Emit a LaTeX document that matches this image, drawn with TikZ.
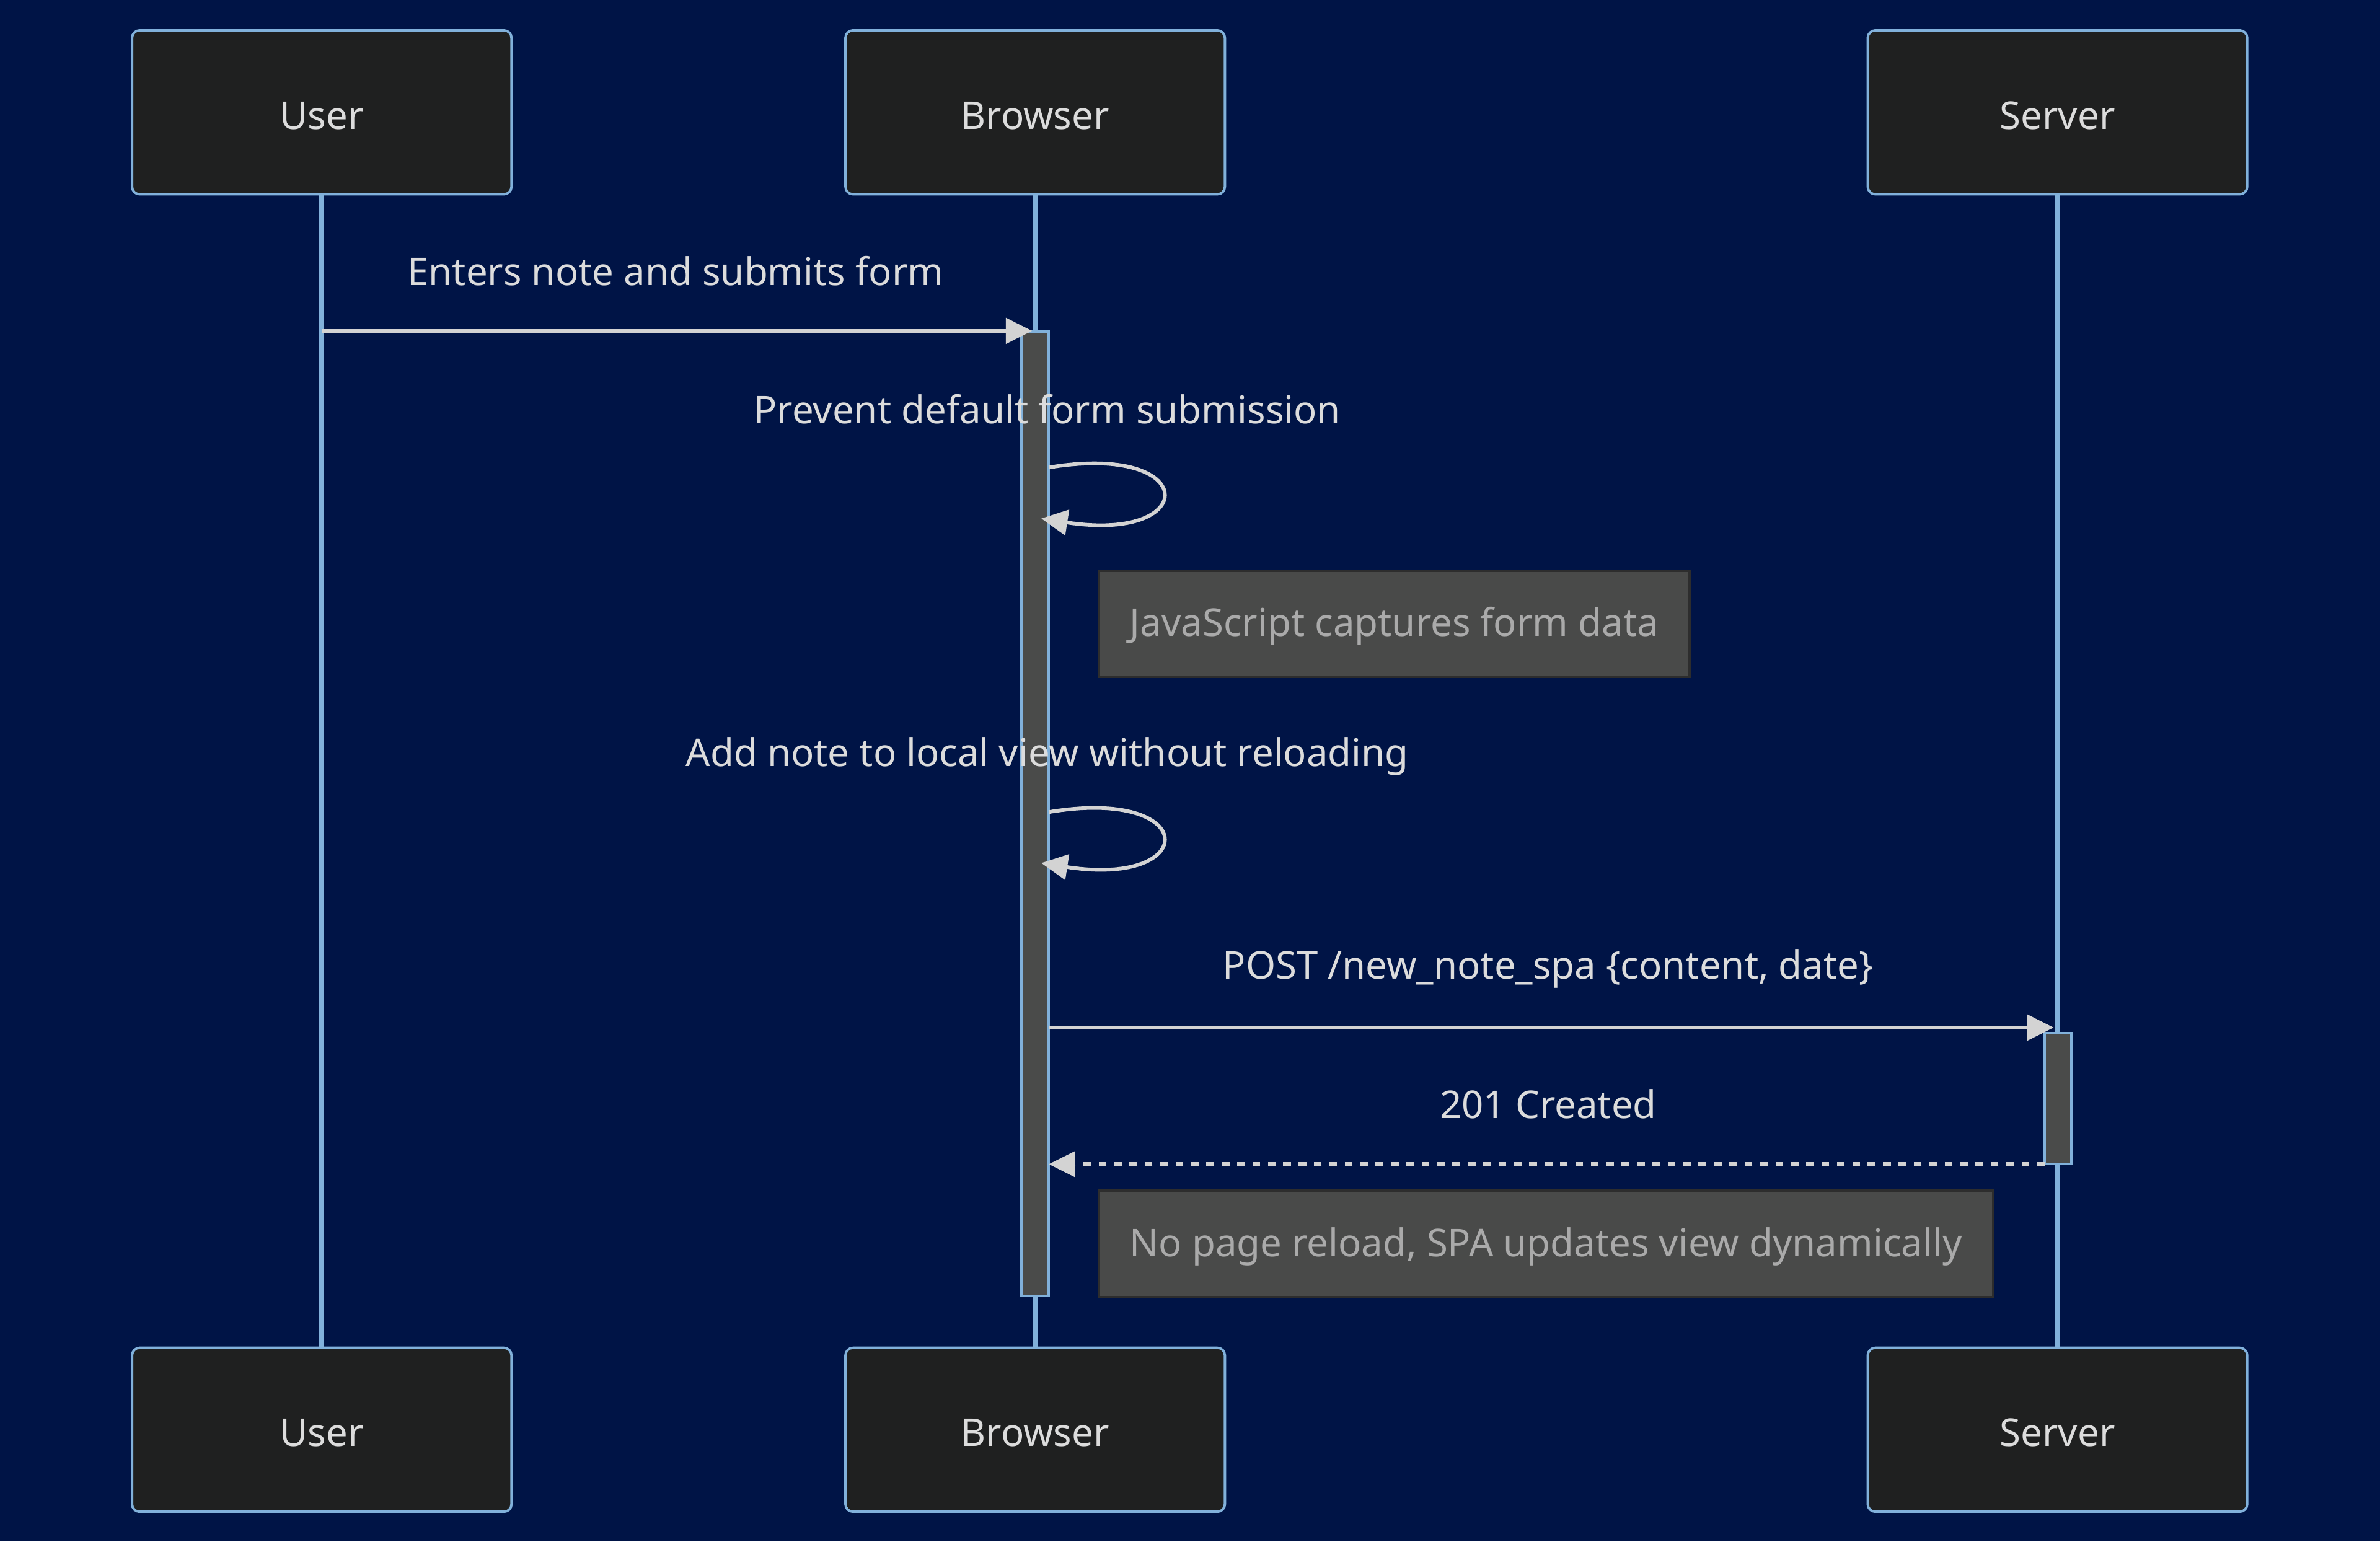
\documentclass[tikz,border=0pt]{standalone}
\usepackage{fontspec}
\setmainfont{Noto Sans}
\usetikzlibrary{arrows.meta,calc}

\definecolor{bgnavy}{RGB}{0,20,70}
\definecolor{actorfill}{RGB}{31,32,32}
\definecolor{lifeblue}{RGB}{129,177,219}
\definecolor{msggray}{RGB}{211,211,211}
\definecolor{msgtext}{RGB}{220,220,220}
\definecolor{notefill}{RGB}{73,74,73}
\definecolor{noteline}{RGB}{45,45,45}
\definecolor{notetext}{RGB}{170,170,170}
\definecolor{actfill}{RGB}{74,75,74}

\tikzset{every picture/.style={line width=0.75pt}}
\tikzset{
  actor/.style={draw=lifeblue, fill=actorfill, line width=1.2pt, rounded corners=3.75pt,
    minimum width=187.5pt, minimum height=81pt, inner sep=0pt, text=msgtext,
    text height=16.5pt, text depth=0pt, font=\fontsize{18.9}{22}\selectfont},
  lifeline/.style={draw=lifeblue, line width=2.4pt},
  actbox/.style={draw=lifeblue, fill=actfill, line width=1.2pt},
  msg/.style={draw=msggray, line width=1.8pt, -{Triangle[length=13pt,width=12.5pt]}},
  reply/.style={msg, dash pattern=on 3.8pt off 3.8pt},
  msglabel/.style={inner sep=0pt, text=msgtext, font=\fontsize{18.9}{22}\selectfont},
  notebox/.style={draw=noteline, fill=notefill, line width=1.2pt, inner sep=0pt,
    text=notetext, text height=17pt, text depth=4.5pt, font=\fontsize{18.9}{22}\selectfont}
}

\begin{document}
\begin{tikzpicture}[x=0.75pt,y=0.75pt,yscale=-1,xscale=1]
%set diagram size and background
\path[use as bounding box, fill=bgnavy] (0,0) rectangle (1568,1015.6);

%Actors top
\node[actor] (user) at (212,74) {User};
\node[actor] (browser) at (682,74) {Browser};
\node[actor] (server) at (1355.5,74) {Server};
%Actors bottom
\node[actor] (userB) at (212,942) {User};
\node[actor] (browserB) at (682,942) {Browser};
\node[actor] (serverB) at (1355.5,942) {Server};

%Lifelines
\draw[lifeline] (user.south) -- (userB.north);
\draw[lifeline] (browser.south) -- (browserB.north);
\draw[lifeline] (server.south) -- (serverB.north);

%Activations
\draw[actbox] (673,218.5) rectangle (691,854);
\draw[actbox] (1347,680.5) rectangle (1364.5,767);

%Message end points
\coordinate (uA) at (212,218);
\coordinate (bA) at (680,218);
\coordinate (bL1) at (691,308);
\coordinate (bL1e) at (686,341.6);
\coordinate (bL2) at (691,535);
\coordinate (bL2e) at (686,568.6);
\coordinate (bP) at (691,677);
\coordinate (sP) at (1353,677);
\coordinate (sR) at (1347,767);
\coordinate (bR) at (691,767);

%Straight Lines
\draw[msg] (uA) -- (bA);
%Self loop
\draw[msg] (bL1) .. controls ($(bL1)+(100,-16.7)$) and ($(bL1)+(100,50)$) .. (bL1e);
%Self loop
\draw[msg] (bL2) .. controls ($(bL2)+(100,-16.7)$) and ($(bL2)+(100,50)$) .. (bL2e);
%Straight Lines
\draw[msg] (bP) -- (sP);
%Dashed Lines
\draw[reply] (sR) -- (bR);

% Text Node
\node[msglabel] (m1) at (445,178.5) {Enters note and submits form};
% Text Node
\node[msglabel] (m2) at (690,269.5) {Prevent default form submission};
% Text Node
\node[msglabel] (m3) at (690,498.5) {Add note to local view without reloading};
% Text Node
\node[msglabel] (m4) at (1020,638.5) {POST /new\_note\_spa \{content, date\}};
% Text Node
\node[msglabel] (m5) at (1020,727.5) {201 Created};

%Notes
\node[notebox, minimum width=291.75pt, minimum height=52.5pt] (n1) at (918.5,411) {JavaScript captures form data};
\node[notebox, minimum width=441.75pt, minimum height=52.5pt] (n2) at (1018.5,819.5) {No page reload, SPA updates view dynamically};

\end{tikzpicture}
\end{document}
